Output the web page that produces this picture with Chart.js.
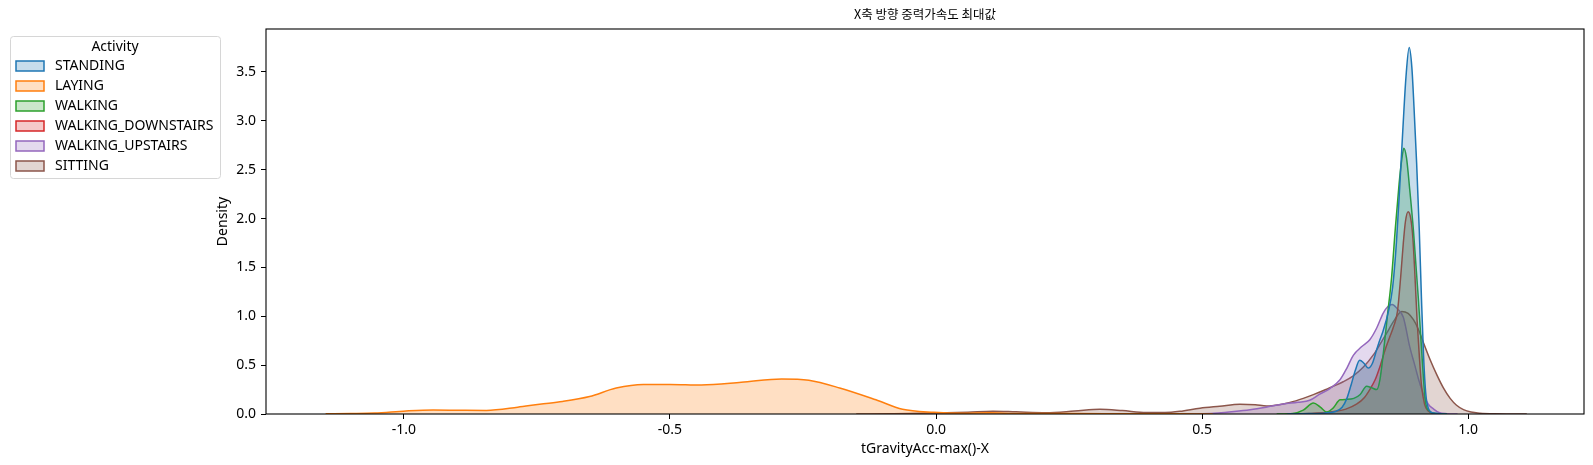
<!DOCTYPE html>
<html>
<head>
<meta charset="utf-8">
<script src="https://cdn.jsdelivr.net/npm/chart.js@4.4.0/dist/chart.umd.min.js"></script>
<style>
  body { margin: 0; background: #fff; }
  #wrap { width: 1593px; height: 465px; }
</style>
</head>
<body>
<div id="wrap"><canvas id="myChart" width="1593" height="465"></canvas></div>
<script>
// data (kde curves, x = tGravityAcc-max()-X, y = density)
const activities = ['STANDING', 'LAYING', 'WALKING', 'WALKING_DOWNSTAIRS', 'WALKING_UPSTAIRS', 'SITTING'];
const colors = ['#1f77b4', '#ff7f0e', '#2ca02c', '#d62728', '#9467bd', '#8c564b'];
const fills = ['rgba(31,119,180,0.25)', 'rgba(255,127,14,0.25)', 'rgba(44,160,44,0.25)',
               'rgba(214,39,40,0.25)', 'rgba(148,103,189,0.25)', 'rgba(140,86,75,0.25)'];

const standingX = [0.66, 0.70, 0.73, 0.75, 0.763, 0.772, 0.780, 0.788, 0.796, 0.804, 0.812, 0.820, 0.828, 0.834, 0.840, 0.850, 0.858, 0.865, 0.871, 0.877, 0.883, 0.889, 0.894, 0.898, 0.903, 0.908, 0.912, 0.916, 0.920, 0.925, 0.935, 0.96];
const standingY = [0, 0.004, 0.01, 0.025, 0.07, 0.16, 0.3, 0.45, 0.55, 0.52, 0.47, 0.52, 0.66, 0.76, 0.85, 1.05, 1.3, 1.75, 2.3, 2.9, 3.45, 3.75, 3.55, 3.15, 2.57, 1.88, 1.2, 0.6, 0.22, 0.06, 0.01, 0];

const layingX = [-1.147, -1.10, -1.055, -0.996, -0.945, -0.895, -0.845, -0.786, -0.745, -0.702, -0.651, -0.601, -0.550, -0.5, -0.441, -0.366, -0.290, -0.239, -0.181, -0.113, -0.063, -0.004, 0.05, 0.1, 0.15, 0.25, 0.35, 0.45, 0.52];
const layingY = [0.002, 0.005, 0.01, 0.031, 0.041, 0.038, 0.036, 0.069, 0.1, 0.128, 0.179, 0.266, 0.303, 0.303, 0.297, 0.324, 0.359, 0.345, 0.266, 0.145, 0.048, 0.017, 0.008, 0.012, 0.006, 0.004, 0.003, 0.002, 0];

const walkingX = [0.64, 0.67, 0.69, 0.709, 0.722, 0.734, 0.746, 0.759, 0.772, 0.785, 0.797, 0.809, 0.818, 0.828, 0.834, 0.840, 0.848, 0.856, 0.863, 0.870, 0.875, 0.879, 0.884, 0.890, 0.897, 0.906, 0.914, 0.919, 0.925, 0.94, 0.96];
const walkingY = [0, 0.005, 0.04, 0.112, 0.07, 0.02, 0.06, 0.145, 0.15, 0.16, 0.2, 0.283, 0.27, 0.25, 0.35, 0.6, 1.0, 1.4, 1.9, 2.35, 2.6, 2.72, 2.62, 2.3, 1.88, 1.2, 0.52, 0.15, 0.04, 0.005, 0];

const downstairsX = [0.66, 0.70, 0.74, 0.77, 0.79, 0.805, 0.815, 0.825, 0.835, 0.844, 0.852, 0.860, 0.867, 0.873, 0.878, 0.882, 0.887, 0.892, 0.896, 0.900, 0.904, 0.908, 0.912, 0.918, 0.925, 0.935, 0.95];
const downstairsY = [0, 0.005, 0.02, 0.05, 0.1, 0.17, 0.25, 0.35, 0.5, 0.66, 0.78, 0.9, 1.05, 1.4, 1.75, 1.97, 2.07, 2.0, 1.8, 1.4, 0.95, 0.6, 0.3, 0.1, 0.03, 0.005, 0];

const upstairsX = [0.45, 0.50, 0.53, 0.56, 0.59, 0.62, 0.652, 0.68, 0.702, 0.72, 0.74, 0.759, 0.772, 0.784, 0.800, 0.815, 0.828, 0.840, 0.849, 0.857, 0.866, 0.878, 0.890, 0.900, 0.908, 0.916, 0.925, 0.935, 0.945, 0.96, 0.98];
const upstairsY = [0, 0.003, 0.01, 0.025, 0.044, 0.07, 0.102, 0.12, 0.14, 0.2, 0.26, 0.35, 0.47, 0.6, 0.69, 0.76, 0.88, 1.03, 1.10, 1.12, 1.08, 0.99, 0.69, 0.49, 0.33, 0.2, 0.1, 0.05, 0.015, 0.003, 0];

const sittingX = [-0.15, -0.08, -0.03, 0.02, 0.06, 0.107, 0.15, 0.207, 0.26, 0.308, 0.35, 0.395, 0.43, 0.458, 0.496, 0.533, 0.571, 0.6, 0.621, 0.645, 0.665, 0.69, 0.709, 0.728, 0.746, 0.765, 0.784, 0.803, 0.822, 0.835, 0.847, 0.86, 0.875, 0.887, 0.897, 0.906, 0.916, 0.928, 0.941, 0.953, 0.966, 0.978, 0.991, 1.005, 1.022, 1.05, 1.08, 1.11];
const sittingY = [0, 0.003, 0.008, 0.012, 0.018, 0.028, 0.022, 0.014, 0.03, 0.048, 0.035, 0.015, 0.015, 0.027, 0.06, 0.08, 0.1, 0.095, 0.082, 0.095, 0.118, 0.16, 0.198, 0.24, 0.283, 0.33, 0.39, 0.48, 0.607, 0.72, 0.83, 0.95, 1.05, 1.03, 0.965, 0.87, 0.727, 0.56, 0.4, 0.27, 0.16, 0.09, 0.045, 0.02, 0.008, 0.002, 0.001, 0];

const seriesX = [standingX, layingX, walkingX, downstairsX, upstairsX, sittingX];
const seriesY = [standingY, layingY, walkingY, downstairsY, upstairsY, sittingY];

const xTicks = [-1.0, -0.5, 0.0, 0.5, 1.0];
const yTicks = [0.0, 0.5, 1.0, 1.5, 2.0, 2.5, 3.0, 3.5];

const font = "'Noto Sans', 'Noto Sans CJK KR', sans-serif";

const datasets = activities.map((name, i) => ({
  label: name,
  data: seriesX[i].map((x, j) => ({x: x, y: seriesY[i][j]})),
  borderColor: colors[i],
  backgroundColor: fills[i],
  borderWidth: 1.5,
  fill: 'origin',
  pointRadius: 0,
  cubicInterpolationMode: 'monotone'
}));

// matplotlib style legend box on the left
const legendBox = {
  id: 'legendBox',
  afterDraw(chart) {
    const c = chart.ctx;
    c.save();
    c.beginPath();
    c.roundRect(10.5, 36.5, 210, 142, 3);
    c.fillStyle = 'rgba(255,255,255,0.8)';
    c.fill();
    c.strokeStyle = '#d6d6d6';
    c.lineWidth = 1;
    c.stroke();
    c.font = '14px ' + font;
    c.textBaseline = 'middle';
    c.fillStyle = '#000';
    c.textAlign = 'center';
    c.fillText('Activity', 115, 47);
    chart.data.datasets.forEach((ds, i) => {
      const y = 66 + i * 20;
      c.fillStyle = ds.backgroundColor;
      c.fillRect(16, y - 5, 28, 10);
      c.strokeStyle = ds.borderColor;
      c.lineWidth = 1.5;
      c.strokeRect(16, y - 5, 28, 10);
      c.fillStyle = '#000';
      c.textAlign = 'left';
      c.fillText(ds.label, 55, y);
    });
    c.restore();
  }
};

// frame on all four sides
const frame = {
  id: 'frame',
  afterDatasetsDraw(chart) {
    const a = chart.chartArea;
    const c = chart.ctx;
    c.save();
    c.strokeStyle = '#000';
    c.lineWidth = 1.1;
    c.strokeRect(a.left, a.top, a.right - a.left, a.bottom - a.top);
    c.restore();
  }
};

const config = {
  type: 'line',
  data: { datasets },
  options: {
    responsive: false,
    animation: false,
    layout: { padding: { left: 215, right: 9, top: 0, bottom: 0 } },
    plugins: {
      legend: { display: false },
      tooltip: { enabled: false },
      title: {
        display: true,
        text: 'X축 방향 중력가속도 최대값',
        fullSize: false,
        color: '#000',
        font: { family: "'Noto Sans CJK KR', 'Noto Sans', sans-serif", size: 12.5, weight: 'normal' },
        padding: { top: 7, bottom: 7 }
      }
    },
    scales: {
      x: {
        type: 'linear',
        min: -1.259,
        max: 1.2175,
        afterBuildTicks: (scale) => { scale.ticks = xTicks.map(v => ({value: v})); },
        afterFit: (scale) => { scale.height = 51; },
        border: { display: false },
        grid: { drawOnChartArea: false, drawTicks: true, tickLength: 5, tickColor: '#000' },
        ticks: { color: '#000', padding: 3, font: { family: font, size: 14 },
                 maxRotation: 0, callback: (v) => v.toFixed(1) },
        title: { display: true, text: 'tGravityAcc-max()-X', color: '#000',
                 font: { family: font, size: 14 }, padding: { top: 0, bottom: 7.6 } }
      },
      y: {
        min: 0,
        max: 3.94,
        afterBuildTicks: (scale) => { scale.ticks = yTicks.map(v => ({value: v})); },
        afterFit: (scale) => { scale.width = 51; },
        border: { display: false },
        grid: { drawOnChartArea: false, drawTicks: true, tickLength: 5, tickColor: '#000' },
        ticks: { color: '#000', padding: 5, font: { family: font, size: 14 },
                 callback: (v) => v.toFixed(1) },
        title: { display: true, text: 'Density', color: '#000',
                 font: { family: font, size: 14 }, padding: 0 }
      }
    }
  },
  plugins: [legendBox, frame]
};

const myChart = new Chart(document.getElementById('myChart').getContext('2d'), config);
</script>
</body>
</html>
